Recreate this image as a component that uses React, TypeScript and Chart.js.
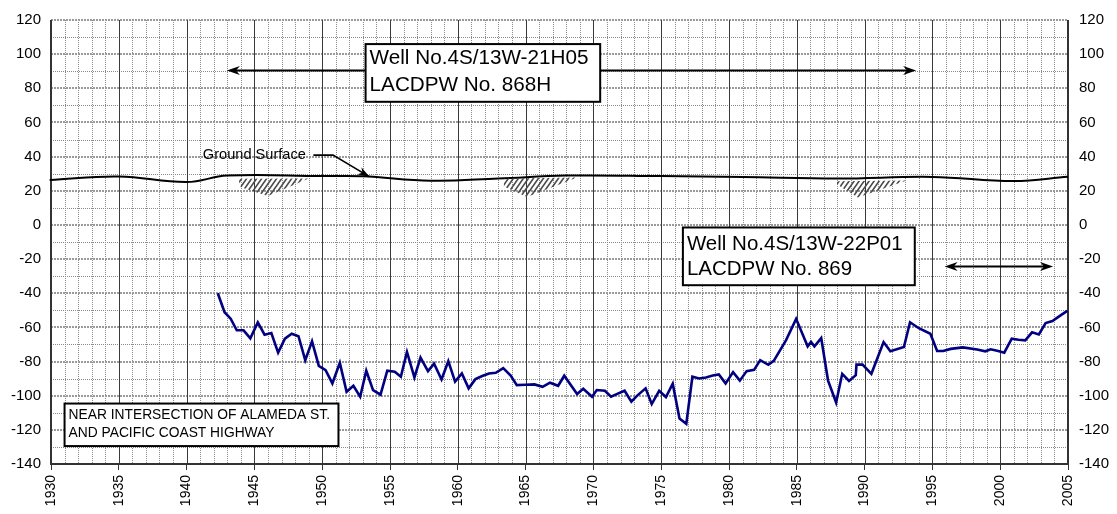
import React, { useEffect, useRef } from 'react';
import { Chart, registerables } from 'chart.js';

Chart.register(...registerables);

// ---------- data ----------
const xTickLabels = [1930, 1935, 1940, 1945, 1950, 1955, 1960, 1965, 1970, 1975, 1980, 1985, 1990, 1995, 2000, 2005];
const yTickLabels = [-140, -120, -100, -80, -60, -40, -20, 0, 20, 40, 60, 80, 100, 120];

const wellYears = [
  1942.3, 1942.8, 1943.25, 1943.7, 1944.2, 1944.7, 1945.25, 1945.75, 1946.25, 1946.75,
  1947.25, 1947.75, 1948.25, 1948.75, 1949.25, 1949.75, 1950.25, 1950.75, 1951.3, 1951.8,
  1952.3, 1952.8, 1953.25, 1953.75, 1954.3, 1954.8, 1955.35, 1955.8, 1956.25, 1956.8,
  1957.25, 1957.8, 1958.25, 1958.8, 1959.3, 1959.8, 1960.3, 1960.8, 1961.3, 1961.8,
  1962.3, 1962.8, 1963.35, 1963.9, 1964.35, 1965.0, 1965.65, 1966.25, 1966.8, 1967.4,
  1967.85, 1968.8, 1969.25, 1969.9, 1970.25, 1970.85, 1971.3, 1971.8, 1972.3, 1972.8,
  1973.25, 1973.85, 1974.3, 1974.85, 1975.35, 1975.85, 1976.35, 1976.85, 1977.3, 1977.8,
  1978.3, 1978.8, 1979.25, 1979.75, 1980.3, 1980.8, 1981.3, 1981.85, 1982.3, 1982.9,
  1983.3, 1984.2, 1984.95, 1985.8, 1986.05, 1986.3, 1986.8, 1987.3, 1987.9, 1988.35,
  1988.85, 1989.35, 1989.4, 1989.85, 1990.5, 1991.4, 1991.9, 1992.9, 1993.35, 1994.0,
  1994.85, 1995.35, 1995.8, 1996.35, 1997.25, 1998.3, 1998.9, 1999.3, 1999.85, 2000.3,
  2000.85, 2001.35, 2001.85, 2002.35, 2002.85, 2003.35, 2003.85, 2004.45, 2004.95,
];
const wellLevels = [
  -40.0, -51.1, -54.9, -61.7, -61.7, -66.4, -57.1, -64.3, -63.3, -74.8,
  -66.6, -63.7, -65.2, -79.2, -68.2, -82.5, -85.0, -92.8, -80.8, -97.7,
  -94.2, -100.6, -85.4, -96.8, -99.4, -85.4, -86.0, -88.9, -74.4, -89.3,
  -77.7, -85.6, -81.2, -90.5, -79.8, -91.8, -87.0, -95.7, -90.3, -88.5,
  -87.0, -86.6, -83.9, -88.2, -93.8, -93.6, -93.4, -94.8, -92.4, -94.2,
  -88.3, -99.0, -95.9, -100.6, -96.7, -97.1, -100.6, -98.8, -97.1, -103.5,
  -99.8, -95.7, -104.9, -97.1, -100.8, -93.0, -113.4, -116.5, -88.9, -89.9,
  -89.3, -88.2, -87.6, -92.8, -86.2, -91.2, -85.6, -84.9, -79.2, -81.9,
  -79.6, -67.6, -55.0, -71.1, -68.5, -71.1, -66.3, -91.0, -104.0, -87.2,
  -91.4, -88.0, -81.8, -81.8, -87.2, -68.6, -74.0, -71.5, -57.0, -60.5,
  -63.7, -73.8, -73.8, -72.6, -71.7, -73.0, -74.0, -72.8, -73.8, -74.8,
  -66.6, -67.2, -67.6, -62.9, -64.1, -57.5, -56.3, -53.0, -50.3,
];

const groundYears = [1929.9, 1935, 1940, 1943, 1950, 1953, 1958, 1963, 1968, 1975, 1981, 1988, 1995, 2001, 2005];
const groundLevels = [26.3, 28.4, 25.1, 28.9, 28.6, 28.5, 25.9, 27.2, 28.9, 28.6, 28.1, 27.2, 28.1, 25.7, 28.2];

// hatched areas under the ground surface (polygon vertices)
const hatchYears = [
  [1943.8, 1949.0, 1946.0, 1944.0],
  [1963.4, 1968.8, 1965.1, 1963.4],
  [1987.9, 1993.1, 1989.5, 1988.0],
];
const hatchLevels = [
  [27.0, 27.2, 17.0, 22.0],
  [27.2, 27.8, 16.3, 22.5],
  [25.6, 26.0, 16.0, 23.5],
];

// annotations (data units)
const topArrow = { from: 1942.97, to: 1993.8, level: 91 };
const rightArrow = { from: 1995.9, to: 2003.9, level: -24.1 };
const groundLabel = { text: 'Ground Surface', year: 1941.2, level: 40.7 };
const groundLeader = { years: [1949.35, 1950.8, 1953.5], levels: [40.9, 40.9, 28.1] };
const wellBoxes = [
  { lines: ['Well No.4S/13W-21H05', 'LACDPW No. 868H'], x0: 1953.2, x1: 1970.5, y0: 105.9, y1: 72.1, size: 20.7, rows: [0.25, 0.72] },
  { lines: ['Well No.4S/13W-22P01', 'LACDPW No. 869'], x0: 1976.6, x1: 1993.7, y0: -1.5, y1: -35.3, size: 20.5, rows: [0.29, 0.72] },
  { lines: ['NEAR INTERSECTION OF ALAMEDA ST.', 'AND PACIFIC COAST HIGHWAY'], x0: 1931.0, x1: 1951.2, y0: -104.6, y1: -129.5, size: 13.8, rows: [0.27, 0.7] },
];

const FONT = '"Liberation Sans", Arial, Helvetica, sans-serif';

function arrowHead(ctx: CanvasRenderingContext2D, x: number, y: number, angle: number, len = 13, half = 4.5) {
  ctx.save();
  ctx.translate(x, y);
  ctx.rotate(angle);
  ctx.beginPath();
  ctx.moveTo(0, 0);
  ctx.lineTo(-len, -half);
  ctx.lineTo(-len * 0.7, 0);
  ctx.lineTo(-len, half);
  ctx.closePath();
  ctx.fill();
  ctx.restore();
}

const gridPlugin = {
  id: 'customGrid',
  beforeDatasetsDraw(chart: any) {
    const { ctx, chartArea: a, scales } = chart;
    const x = scales.x;
    const y = scales.y;
    ctx.save();
    const vline = (px: number) => { ctx.beginPath(); ctx.moveTo(px, a.top); ctx.lineTo(px, a.bottom); ctx.stroke(); };
    const hline = (py: number) => { ctx.beginPath(); ctx.moveTo(a.left, py); ctx.lineTo(a.right, py); ctx.stroke(); };
    // minor verticals each year
    ctx.lineWidth = 1;
    ctx.strokeStyle = '#8a8a8a';
    ctx.setLineDash([1, 1]);
    for (let yr = x.min + 1; yr < x.max; yr++) {
      if (yr % 5 === 0) continue;
      vline(Math.round(x.getPixelForValue(yr)) + 0.5);
    }
    // minor horizontals each 10
    for (let v = y.min + 10; v < y.max; v += 20) {
      hline(Math.round(y.getPixelForValue(v)) + 0.5);
    }
    // major horizontals each 20
    ctx.lineWidth = 2;
    ctx.strokeStyle = '#9a9a9a';
    ctx.setLineDash([2, 1]);
    for (const v of yTickLabels) {
      if (v === y.min) continue;
      hline(Math.round(y.getPixelForValue(v)));
    }
    // major verticals
    ctx.setLineDash([]);
    ctx.lineWidth = 1;
    ctx.strokeStyle = '#3a3a3a';
    for (const v of xTickLabels) {
      if (v === x.min || v === x.max) continue;
      vline(Math.round(x.getPixelForValue(v)) + 0.5);
    }
    // borders
    ctx.lineWidth = 2;
    ctx.strokeStyle = '#333';
    ctx.beginPath();
    ctx.moveTo(a.left, a.top);
    ctx.lineTo(a.left, a.bottom);
    ctx.lineTo(a.right, a.bottom);
    ctx.lineTo(a.right, a.top);
    ctx.stroke();
    ctx.restore();
  },
};

const annotationPlugin = {
  id: 'annotations',
  afterDatasetsDraw(chart: any) {
    const { ctx, scales } = chart;
    const x = scales.x;
    const y = scales.y;
    const px = (v: number) => x.getPixelForValue(v);
    const py = (v: number) => y.getPixelForValue(v);
    ctx.save();

    // hatched areas
    hatchYears.forEach((ys, i) => {
      const lv = hatchLevels[i];
      ctx.save();
      ctx.beginPath();
      ys.forEach((yr, j) => {
        const X = px(yr), Y = py(lv[j]);
        if (j === 0) ctx.moveTo(X, Y); else ctx.lineTo(X, Y);
      });
      ctx.closePath();
      ctx.clip();
      const xs = ys.map(px);
      const yv = lv.map(py);
      const minX = Math.min(...xs) - 30, maxX = Math.max(...xs) + 10;
      const top = Math.min(...yv) - 2, bot = Math.max(...yv) + 2;
      ctx.strokeStyle = '#4a4a4a';
      ctx.lineWidth = 1.6;
      const slope = 0.7;
      for (let sx = minX; sx < maxX; sx += 5) {
        ctx.beginPath();
        ctx.moveTo(sx, bot);
        ctx.lineTo(sx + (bot - top) * slope, top);
        ctx.stroke();
      }
      ctx.restore();
    });

    ctx.fillStyle = '#000';
    ctx.strokeStyle = '#000';
    // double arrows
    for (const arr of [topArrow, rightArrow]) {
      const x0 = px(arr.from), x1 = px(arr.to), yy = Math.round(py(arr.level)) + 0.5;
      ctx.lineWidth = 2;
      ctx.beginPath();
      ctx.moveTo(x0 + 8, yy);
      ctx.lineTo(x1 - 8, yy);
      ctx.stroke();
      arrowHead(ctx, x0, yy, Math.PI);
      arrowHead(ctx, x1, yy, 0);
    }

    // ground surface label + leader
    ctx.font = `14.6px ${FONT}`;
    ctx.textBaseline = 'middle';
    ctx.textAlign = 'left';
    ctx.fillText(groundLabel.text, px(groundLabel.year), py(groundLabel.level));
    ctx.lineWidth = 1.6;
    ctx.beginPath();
    groundLeader.years.forEach((yr, j) => {
      const X = px(yr), Y = py(groundLeader.levels[j]);
      if (j === 0) ctx.moveTo(X, Y); else ctx.lineTo(X, Y);
    });
    ctx.stroke();
    {
      const n = groundLeader.years.length;
      const xa = px(groundLeader.years[n - 2]), ya = py(groundLeader.levels[n - 2]);
      const xb = px(groundLeader.years[n - 1]), yb = py(groundLeader.levels[n - 1]);
      arrowHead(ctx, xb, yb, Math.atan2(yb - ya, xb - xa), 12, 4);
    }

    // boxes
    for (const b of wellBoxes) {
      const l = px(b.x0), r = px(b.x1), t = py(b.y0), bt = py(b.y1);
      ctx.fillStyle = '#fff';
      ctx.fillRect(l, t, r - l, bt - t);
      ctx.lineWidth = 2;
      ctx.strokeStyle = '#000';
      ctx.strokeRect(l, t, r - l, bt - t);
      ctx.fillStyle = '#000';
      ctx.font = `${b.size}px ${FONT}`;
      ctx.textAlign = 'left';
      ctx.textBaseline = 'middle';
      b.lines.forEach((s, k) => {
        ctx.fillText(s, l + 4, t + (bt - t) * b.rows[k]);
      });
    }
    ctx.restore();
  },
};

export default function App() {
  const ref = useRef<HTMLCanvasElement | null>(null);
  useEffect(() => {
    document.body.style.margin = '0';
    const canvas = ref.current;
    if (!canvas) return;
    const xFont = { family: FONT, size: 14 };
    const yFont = { family: FONT, size: 15 };
    const chart = new Chart(canvas, {
      type: 'line',
      data: {
        datasets: [
          {
            label: 'Ground Surface',
            data: groundYears.map((v, i) => ({ x: v, y: groundLevels[i] })),
            borderColor: '#000',
            borderWidth: 2,
            pointRadius: 0,
            tension: 0.4,
            fill: false,
            clip: false,
          },
          {
            label: 'Water level',
            data: wellYears.map((v, i) => ({ x: v, y: wellLevels[i] })),
            borderColor: '#000080',
            borderWidth: 2.6,
            pointRadius: 0,
            tension: 0,
            fill: false,
          },
        ],
      },
      options: {
        responsive: false,
        animation: false,
        events: [],
        devicePixelRatio: 1,
        layout: { padding: { top: 16, left: 0, right: 0, bottom: 0 } },
        plugins: { legend: { display: false }, tooltip: { enabled: false } },
        scales: {
          x: {
            type: 'linear',
            min: 1930,
            max: 2005,
            afterBuildTicks: (s: any) => { s.ticks = xTickLabels.map((v) => ({ value: v })); },
            afterFit: (s: any) => { s.height = 50; },
            ticks: {
              minRotation: 90,
              maxRotation: 90,
              autoSkip: false,
              padding: 5,
              color: '#000',
              font: xFont,
              callback: (v: any) => String(v),
            },
            grid: { drawOnChartArea: false, drawTicks: true, tickLength: 6, tickColor: '#333', tickWidth: 1 },
            border: { display: false },
          },
          y: {
            type: 'linear',
            position: 'left',
            min: -140,
            max: 120,
            afterBuildTicks: (s: any) => { s.ticks = yTickLabels.map((v) => ({ value: v })); },
            afterFit: (s: any) => { s.width = 51; },
            ticks: { padding: 10, color: '#000', font: yFont, callback: (v: any) => String(v) },
            grid: { display: false, drawTicks: false },
            border: { display: false },
          },
          y1: {
            type: 'linear',
            position: 'right',
            min: -140,
            max: 120,
            afterBuildTicks: (s: any) => { s.ticks = yTickLabels.map((v) => ({ value: v })); },
            afterFit: (s: any) => { s.width = 49; },
            ticks: { padding: 11, color: '#000', font: yFont, callback: (v: any) => String(v) },
            grid: { display: false, drawTicks: false },
            border: { display: false },
          },
        },
      } as any,
      plugins: [gridPlugin, annotationPlugin],
    });
    return () => chart.destroy();
  }, []);
  return (
    <div style={{ position: 'absolute', left: 0, top: 0, width: 1117, height: 514, background: '#fff' }}>
      <canvas ref={ref} width={1117} height={514} style={{ display: 'block', width: 1117, height: 514 }} />
    </div>
  );
}
